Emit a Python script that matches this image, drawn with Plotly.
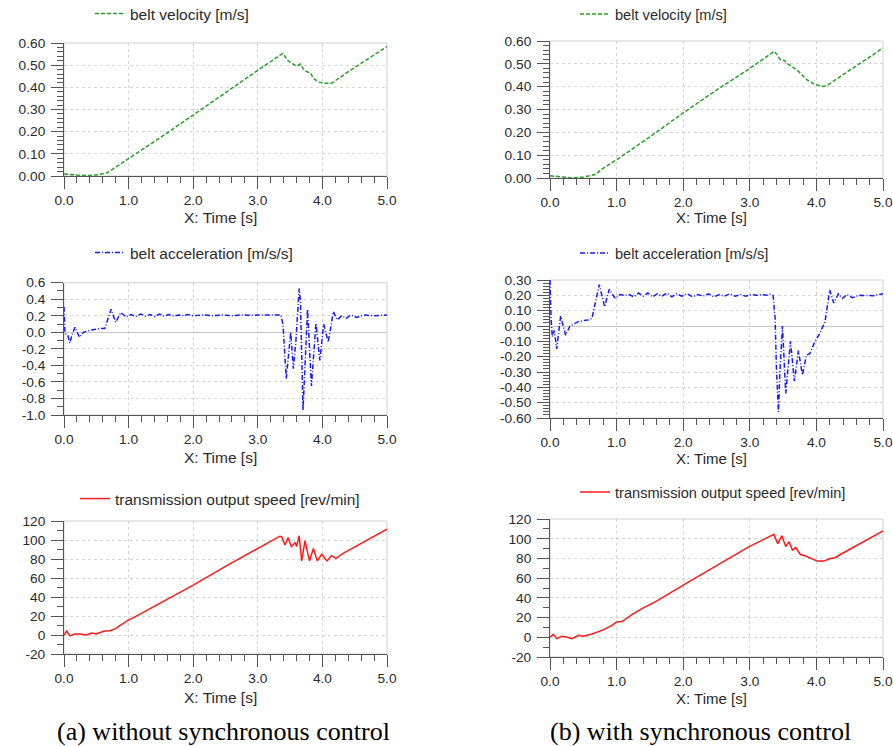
import plotly.graph_objects as go

W, H = 893, 746

# ---------------- data ----------------
# belt velocity [m/s]
t_vel_a = [0, 0.1, 0.2, 0.35, 0.5, 0.66, 0.8, 1.0, 1.5, 2.0, 2.5, 3.0, 3.385, 3.47, 3.55, 3.60,
           3.66, 3.715, 3.78, 3.82, 3.86, 3.94, 4.01, 4.14, 4.5, 5.0]
vel_a = [0.009, 0.006, 0.004, 0.002, 0.005, 0.013, 0.04, 0.075, 0.175, 0.275, 0.377, 0.477, 0.553,
         0.52, 0.505, 0.495, 0.505, 0.478, 0.468, 0.463, 0.44, 0.425, 0.418, 0.418, 0.49, 0.584]

t_vel_b = [0, 0.1, 0.2, 0.33, 0.5, 0.68, 0.78, 1.0, 1.5, 2.0, 2.5, 3.0, 3.37, 3.42, 3.46, 3.52,
           3.56, 3.63, 3.73, 3.86, 3.98, 4.11, 4.18, 4.5, 5.0]
vel_b = [0.010, 0.006, 0.003, 0.0, 0.004, 0.015, 0.039, 0.080, 0.180, 0.285, 0.385, 0.48, 0.555,
         0.535, 0.518, 0.515, 0.502, 0.489, 0.467, 0.43, 0.409, 0.401, 0.409, 0.472, 0.569]

# belt acceleration [m/s/s]
t_acc_a = [0, 0.005, 0.015, 0.03, 0.06, 0.09, 0.12, 0.17, 0.24, 0.30, 0.40, 0.56, 0.63, 0.73,
           0.80, 0.88, 0.96, 1.04, 1.11, 1.19, 1.26, 1.33, 1.40, 1.48, 1.55, 1.62, 1.70, 1.77,
           1.85, 1.92, 2.0, 2.15, 2.3, 2.45, 2.6, 2.75, 2.9, 3.05, 3.2, 3.355, 3.39, 3.44, 3.51,
           3.55, 3.59, 3.64, 3.66, 3.70, 3.77, 3.83, 3.90, 3.96, 4.02, 4.09, 4.17, 4.23, 4.30,
           4.37, 4.44, 4.53, 4.64, 4.79, 5.0]
acc_a = [0.31, 0.15, 0.0, -0.03, -0.04, -0.13, -0.04, 0.06, -0.06, 0.0, 0.025, 0.045, 0.045, 0.28,
         0.12, 0.24, 0.185, 0.215, 0.19, 0.22, 0.195, 0.215, 0.19, 0.22, 0.195, 0.215, 0.195, 0.21,
         0.2, 0.215, 0.2, 0.21, 0.2, 0.21, 0.2, 0.21, 0.205, 0.21, 0.21, 0.21, 0.10, -0.56, 0.0,
         -0.44, -0.10, 0.53, 0.38, -0.94, 0.28, -0.65, 0.11, -0.34, 0.10, -0.12, 0.25, 0.15, 0.20,
         0.17, 0.21, 0.18, 0.21, 0.20, 0.21]

t_acc_b = [0, 0.015, 0.035, 0.065, 0.10, 0.16, 0.235, 0.30, 0.43, 0.58, 0.63, 0.74, 0.82, 0.89,
           0.98, 1.05, 1.12, 1.19, 1.26, 1.33, 1.40, 1.47, 1.54, 1.61, 1.68, 1.75, 1.83, 1.90,
           1.98, 2.06, 2.14, 2.22, 2.30, 2.38, 2.46, 2.54, 2.62, 2.70, 2.78, 2.86, 2.94, 3.02,
           3.10, 3.18, 3.26, 3.30, 3.35, 3.38, 3.40, 3.43, 3.45, 3.49, 3.54, 3.61, 3.67, 3.73,
           3.79, 3.85, 3.90, 3.98, 4.05, 4.13, 4.20, 4.26, 4.33, 4.39, 4.46, 4.54, 4.65, 4.85, 5.0]
acc_b = [0.30, 0.05, -0.07, -0.03, -0.15, 0.065, -0.06, 0.0, 0.03, 0.04, 0.05, 0.27, 0.125, 0.24,
         0.18, 0.205, 0.2, 0.205, 0.19, 0.215, 0.195, 0.215, 0.19, 0.21, 0.195, 0.215, 0.19, 0.21,
         0.195, 0.21, 0.19, 0.205, 0.195, 0.21, 0.19, 0.205, 0.195, 0.21, 0.195, 0.205, 0.195,
         0.205, 0.2, 0.205, 0.2, 0.207, 0.198, 0.05, -0.276, -0.56, -0.32, 0.0, -0.44, -0.10,
         -0.36, -0.16, -0.32, -0.19, -0.18, -0.10, -0.05, 0.03, 0.235, 0.15, 0.21, 0.18, 0.205,
         0.185, 0.20, 0.198, 0.21]

# transmission output speed [rev/min]
t_spd_a = [0, 0.04, 0.09, 0.17, 0.25, 0.34, 0.43, 0.5, 0.61, 0.71, 0.79, 0.87, 1.0, 1.07, 1.18,
           1.33, 1.59, 2.0, 2.52, 3.0, 3.34, 3.37, 3.42, 3.47, 3.52, 3.58, 3.60, 3.64, 3.68, 3.73,
           3.80, 3.86, 3.92, 3.99, 4.07, 4.14, 4.21, 4.32, 5.0]
spd_a = [0, 4, -1, 1, 1, 0, 2, 1, 4, 4.5, 6.5, 10, 16, 18, 22, 28, 37, 52.5, 73, 91.6, 104, 103.5,
         94.7, 102.5, 93, 97.5, 93, 104.5, 78, 99, 78, 91, 78, 85, 78, 83.5, 80.7, 86, 111.5]

t_spd_b = [0, 0.05, 0.10, 0.175, 0.25, 0.33, 0.43, 0.5, 0.63, 0.78, 0.93, 1.0, 1.08, 1.23, 1.38,
           1.58, 2.0, 2.49, 2.99, 3.36, 3.42, 3.48, 3.54, 3.59, 3.64, 3.69, 3.76, 3.83, 3.91, 4.01,
           4.11, 4.21, 4.28, 4.36, 5.0]
spd_b = [0, 3, -1.4, 1, 0.3, -1.4, 2, 1, 3.4, 7, 12, 15.6, 16, 23, 29, 36, 53, 72, 92, 104.4, 95,
         103, 92, 97, 88.5, 91, 84, 82.7, 80, 77.3, 77.3, 80, 80.7, 84, 108]

# tick labels
vel_ticks = [0.0, 0.1, 0.2, 0.3, 0.4, 0.5, 0.6]
vel_ticktext = ["0.00", "0.10", "0.20", "0.30", "0.40", "0.50", "0.60"]
acc_a_ticks = [-1.0, -0.8, -0.6, -0.4, -0.2, 0.0, 0.2, 0.4, 0.6]
acc_a_ticktext = ["-1.0", "-0.8", "-0.6", "-0.4", "-0.2", "0.0", "0.2", "0.4", "0.6"]
acc_b_ticks = [-0.6, -0.5, -0.4, -0.3, -0.2, -0.1, 0.0, 0.1, 0.2, 0.3]
acc_b_ticktext = ["-0.60", "-0.50", "-0.40", "-0.30", "-0.20", "-0.10", "0.00", "0.10", "0.20", "0.30"]
spd_ticks = [-20, 0, 20, 40, 60, 80, 100, 120]
spd_ticktext = ["-20", "0", "20", "40", "60", "80", "100", "120"]

captions = ["(a) without synchronous control", "(b) with synchronous control"]

# ---------------- layout helpers ----------------
def px_x(p):
    return p / W

def px_y(p):
    return 1 - p / H

XD_A = [px_x(64), px_x(387)]
XD_B = [px_x(550), px_x(883)]
YD = {
    1: [px_y(176), px_y(43)],
    2: [px_y(178), px_y(41)],
    3: [px_y(415), px_y(282.7)],
    4: [px_y(418), px_y(280)],
    5: [px_y(654), px_y(521)],
    6: [px_y(657), px_y(519)],
}

AX_COL = "#555555"
GRID_COL = "#d4d4d4"
TXT_COL = "#2a2a2a"
FONT = "Liberation Sans, Arial, sans-serif"


def minor_vals(lo, hi, step):
    n = int(round((hi - lo) / step))
    return [round(lo + i * step, 6) for i in range(n + 1)]


fig = go.Figure()

series = [
    (1, t_vel_a, vel_a, "belt velocity [m/s]", "rgb(40,160,40)", "4px,2px"),
    (2, t_vel_b, vel_b, "belt velocity [m/s]", "rgb(40,160,40)", "4px,2px"),
    (3, t_acc_a, acc_a, "belt acceleration [m/s/s]", "rgb(25,25,245)", "5px,2px,1px,2px"),
    (4, t_acc_b, acc_b, "belt acceleration [m/s/s]", "rgb(25,25,245)", "5px,2px,1px,2px"),
    (5, t_spd_a, spd_a, "transmission output speed [rev/min]", "rgb(255,25,25)", "solid"),
    (6, t_spd_b, spd_b, "transmission output speed [rev/min]", "rgb(255,25,25)", "solid"),
]

for idx, t, y, name, col, dash in series:
    sfx = "" if idx == 1 else str(idx)
    fig.add_trace(go.Scatter(
        x=t, y=y, mode="lines", name=name,
        line=dict(color=col, width=1.5, dash=dash),
        xaxis="x" + sfx, yaxis="y" + sfx,
        legend="legend" + sfx, showlegend=True,
        hoverinfo="skip",
    ))

yinfo = {
    1: ([0, 0.6], vel_ticks, vel_ticktext, minor_vals(0, 0.6, 0.02), False),
    2: ([0, 0.6], vel_ticks, vel_ticktext, minor_vals(0, 0.6, 0.02), False),
    3: ([-1.0, 0.6], acc_a_ticks, acc_a_ticktext, minor_vals(-1.0, 0.6, 0.1), True),
    4: ([-0.6, 0.3], acc_b_ticks, acc_b_ticktext, minor_vals(-0.6, 0.3, 0.02), True),
    5: ([-20, 120], spd_ticks, spd_ticktext, minor_vals(-20, 120, 10), False),
    6: ([-20, 120], spd_ticks, spd_ticktext, minor_vals(-20, 120, 10), False),
}

layout = dict(
    width=W, height=H,
    margin=dict(l=0, r=0, t=0, b=0, autoexpand=False),
    paper_bgcolor="white", plot_bgcolor="white",
    font=dict(family=FONT, color=TXT_COL),
    shapes=[], annotations=[],
)

for idx in range(1, 7):
    sfx = "" if idx == 1 else str(idx)
    xd = XD_A if idx % 2 == 1 else XD_B
    rng, tv, tt, mv, zl = yinfo[idx]
    layout["xaxis" + sfx] = dict(
        domain=xd, anchor="y" + sfx, range=[0, 5],
        tickmode="linear", tick0=0, dtick=1, tickformat=".1f",
        ticks="outside", ticklen=12, tickwidth=1, tickcolor=AX_COL,
        showline=True, linecolor=AX_COL, linewidth=1,
        showgrid=True, gridcolor=GRID_COL, griddash="dot", gridwidth=1,
        zeroline=False, fixedrange=True, automargin=False,
        tickfont=dict(size=13.7, color=TXT_COL, family=FONT),
        minor=dict(ticks="outside", ticklen=6, tickwidth=1, tickcolor=AX_COL,
                   tickmode="linear", tick0=0, dtick=0.2, showgrid=False),
    )
    layout["yaxis" + sfx] = dict(
        domain=YD[idx], anchor="x" + sfx, range=rng,
        tickmode="array", tickvals=tv, ticktext=tt,
        ticks="outside", ticklen=12, tickwidth=1, tickcolor=AX_COL,
        ticklabelstandoff=3,
        showline=True, linecolor=AX_COL, linewidth=1,
        showgrid=True, gridcolor=GRID_COL, griddash="dot", gridwidth=1,
        zeroline=zl, zerolinecolor="#c8c8c8", zerolinewidth=1, fixedrange=True,
        automargin=False,
        tickfont=dict(size=13.7, color=TXT_COL, family=FONT),
        minor=dict(ticks="outside", ticklen=6, tickwidth=1, tickcolor=AX_COL,
                   tickmode="array", tickvals=mv, showgrid=False),
    )
    # light frame (top / right)
    layout["shapes"].append(dict(
        type="rect", xref="paper", yref="paper",
        x0=xd[0], x1=xd[1], y0=YD[idx][0], y1=YD[idx][1],
        line=dict(color="#cfcfcf", width=1), layer="below",
    ))

# legends (one per panel)
leg_pos = {
    1: (95, 14, 15.5), 2: (580, 14, 14.6),
    3: (95, 253, 15.5), 4: (580, 253, 14.6),
    5: (80, 499, 15.5), 6: (580, 492, 14.6),
}
for idx, (lx, ly, fs) in leg_pos.items():
    sfx = "" if idx == 1 else str(idx)
    layout["legend" + sfx] = dict(
        xref="container", yref="container",
        x=px_x(lx - 5), y=px_y(ly), xanchor="left", yanchor="middle",
        bgcolor="rgba(0,0,0,0)", borderwidth=0,
        font=dict(size=fs, color=TXT_COL, family=FONT),
        itemclick=False, itemdoubleclick=False,
    )

# axis titles "X: Time [s]"
xt_pos = [(220, 218, 15.5), (711, 218, 15), (220, 457, 15.5), (711, 458, 15),
          (220, 697, 15.5), (711, 698, 15)]
for (cx, cy, fs) in xt_pos:
    layout["annotations"].append(dict(
        text="X: Time [s]", x=px_x(cx), y=px_y(cy), xref="paper", yref="paper",
        xanchor="center", yanchor="middle", showarrow=False,
        font=dict(size=fs, color=TXT_COL, family=FONT),
    ))

# captions
for text, cx in zip(captions, [223, 700]):
    layout["annotations"].append(dict(
        text=text, x=px_x(cx), y=px_y(731), xref="paper", yref="paper",
        xanchor="center", yanchor="middle", showarrow=False,
        font=dict(size=26, color="black", family="Liberation Serif, Times New Roman, serif"),
    ))

fig.update_layout(**layout)
fig.write_html(
    "out.html",
    config=dict(displayModeBar=False),
    post_script="document.body.style.margin='0';document.body.style.overflow='hidden';",
)
